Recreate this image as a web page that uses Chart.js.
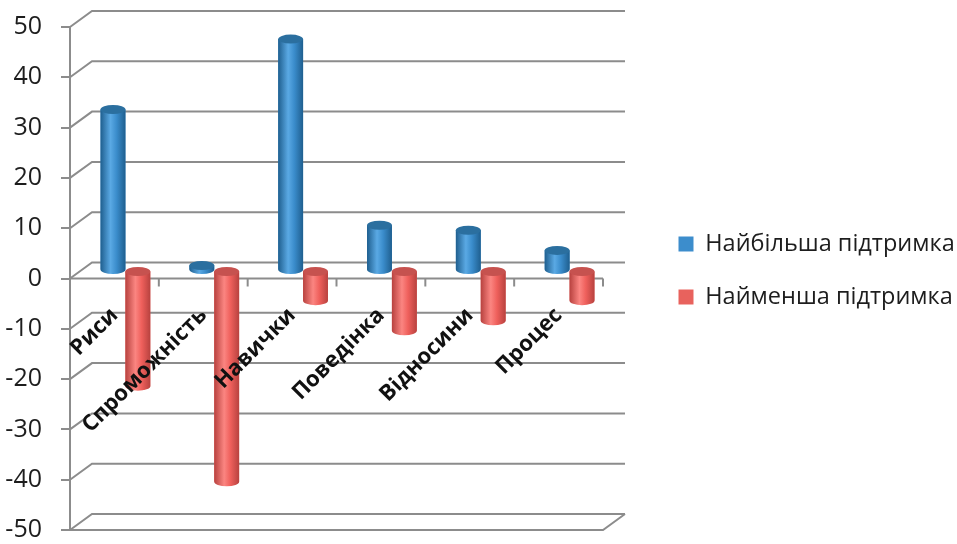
<!DOCTYPE html>
<html><head><meta charset="utf-8">
<script src="https://cdn.jsdelivr.net/npm/chart.js@4.4.1/dist/chart.umd.min.js"></script>
<style>html,body{margin:0;padding:0;background:#fff}#wrap{width:957px;height:544px;position:relative}</style>
</head><body><div id="wrap"><canvas id="c"></canvas></div>
<script>
const categories = ['Риси', 'Спроможність', 'Навички', 'Поведінка', 'Відносини', 'Процес'];
const seriesNames = ['Найбільша підтримка', 'Найменша підтримка'];
const mostSupport = [32, 1, 46, 9, 8, 4];
const leastSupport = [-23, -42, -6, -12, -10, -6];
const yMin = -50, yMax = 50, yStep = 10;

const DX = 22, DY = 16;
const GRID = '#8c8c8c';
const LEGEND_W = 308, GAP_W = 46, YAXIS_W = 69, LEGEND_SHIFT = -8;
const palettes = [
  {edge: '#1f5f8f', light: '#5aa9e4', mid: '#3a8ccb', cap: '#2b6f9f', flat: '#3c8dcc'},
  {edge: '#b8423f', light: '#fb8581', mid: '#ef605c', cap: '#c6524f', flat: '#e8625d'}
];

function cylinder(ctx, cx, w, yv, yb, c) {
  const l = cx - w / 2, r = cx + w / 2, ry = 4.5;
  const top = Math.min(yv, yb), bot = Math.max(yv, yb);
  const g = ctx.createLinearGradient(l, 0, r, 0);
  g.addColorStop(0, c.edge); g.addColorStop(0.4, c.light); g.addColorStop(0.65, c.mid); g.addColorStop(1, c.edge);
  ctx.fillStyle = g;
  ctx.beginPath();
  ctx.moveTo(l, top); ctx.lineTo(l, bot);
  ctx.ellipse(cx, bot, w / 2, ry, 0, Math.PI, 0, true);
  ctx.lineTo(r, top); ctx.closePath(); ctx.fill();
  ctx.fillStyle = c.cap;
  ctx.beginPath(); ctx.ellipse(cx, top, w / 2, ry, 0, 0, Math.PI * 2); ctx.fill();
}

const legendFix = {
  id: 'legendFix',
  beforeLayout(chart) {
    const lg = chart.legend;
    if (lg && !lg._wfix) {
      const orig = lg.fit;
      lg.fit = function () { this.maxWidth = 10000; orig.call(this); this.width = LEGEND_W; };
      lg._wfix = true;
    }
  },
  afterLayout(chart) {
    const lg = chart.legend;
    if (lg) { lg.top += LEGEND_SHIFT; lg.bottom += LEGEND_SHIFT; }
  }
};

const frame3d = {
  id: 'frame3d',
  beforeDatasetsDraw(chart) {
    const {ctx, chartArea: a, scales: {x, y}} = chart;
    ctx.save();
    ctx.strokeStyle = GRID; ctx.lineWidth = 2; ctx.lineCap = 'butt';
    y.ticks.forEach(t => {
      const yf = y.getPixelForValue(t.value);
      ctx.beginPath();
      ctx.moveTo(a.left, yf); ctx.lineTo(a.left + DX, yf - DY); ctx.lineTo(a.right + DX, yf - DY);
      ctx.stroke();
    });
    ctx.beginPath();
    ctx.moveTo(a.left, a.bottom); ctx.lineTo(a.right, a.bottom); ctx.lineTo(a.right + DX, a.bottom - DY);
    ctx.stroke();
    const y0 = y.getPixelForValue(0);
    ctx.beginPath(); ctx.moveTo(a.left, y0); ctx.lineTo(a.right, y0); ctx.stroke();
    const step = (a.right - a.left) / categories.length;
    for (let i = 1; i <= categories.length; i++) {
      const xx = a.left + step * i;
      ctx.beginPath(); ctx.moveTo(xx, y0); ctx.lineTo(xx, y0 + 8); ctx.stroke();
    }
    ctx.restore();
    ctx.save();
    ctx.translate(DX / 2, -DY / 2);
  },
  afterDatasetsDraw(chart) {
    const {ctx} = chart;
    chart.data.datasets.forEach((ds, di) => {
      const meta = chart.getDatasetMeta(di);
      meta.data.forEach(el => {
        const p = el.getProps(['x', 'y', 'base', 'width'], true);
        cylinder(ctx, p.x, p.width, p.y, p.base, palettes[di]);
      });
    });
    ctx.restore();
  }
};

new Chart(document.getElementById('c'), {
  type: 'bar',
  data: {
    labels: categories,
    datasets: [
      {label: seriesNames[0], data: mostSupport, backgroundColor: palettes[0].flat, borderWidth: 0, clip: false},
      {label: seriesNames[1], data: leastSupport, backgroundColor: palettes[1].flat, borderWidth: 0, clip: false}
    ]
  },
  options: {
    responsive: true, maintainAspectRatio: false, animation: false,
    layout: {padding: {top: 27, bottom: 14, left: 1, right: 0}},
    datasets: {bar: {categoryPercentage: 0.56, barPercentage: 1}},
    plugins: {
      tooltip: {enabled: false},
      legend: {
        position: 'right',
        labels: {boxWidth: 15, boxHeight: 15, padding: 29.5, color: '#1d1d1d',
          font: {family: 'Open Sans', size: 23.5}}
      }
    },
    scales: {
      x: {
        position: {y: 0},
        grid: {display: false},
        border: {display: false},
        ticks: {z: 1, minRotation: 45, maxRotation: 45, color: '#111', padding: 16,
          font: {family: 'Open Sans', size: 22, weight: 'bold'}},
        afterFit(s) { s.paddingLeft = 0; s.paddingRight = 0; s.paddingTop = 0; s.paddingBottom = 0; }
      },
      y: {
        min: yMin, max: yMax,
        ticks: {stepSize: yStep, color: '#1d1d1d', padding: 19, font: {family: 'Open Sans', size: 25}},
        grid: {drawOnChartArea: false, drawTicks: true, tickLength: 9, color: GRID, lineWidth: 2},
        border: {display: true, color: GRID, width: 2},
        afterFit(s) { s.width = YAXIS_W; s.paddingTop = 0; s.paddingBottom = 0; }
      },
      yR: {
        position: 'right', display: true, min: 0, max: 1,
        grid: {display: false}, border: {display: false}, ticks: {display: false},
        afterFit(s) { s.width = GAP_W; }
      }
    }
  },
  plugins: [legendFix, frame3d]
});
</script></body></html>
